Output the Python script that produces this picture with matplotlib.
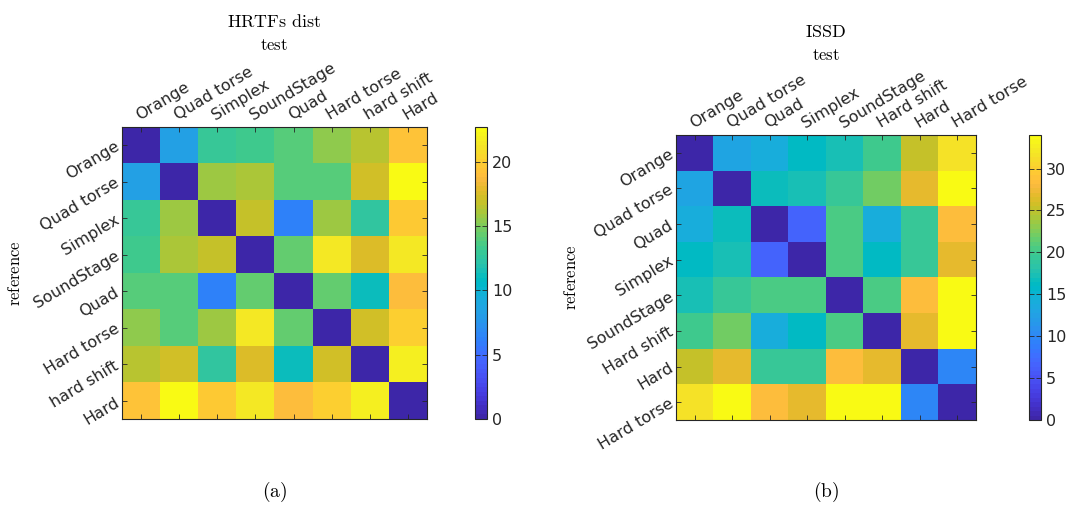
import numpy as np
import matplotlib
matplotlib.use("Agg")
import matplotlib.pyplot as plt
from matplotlib.colors import ListedColormap

plt.rcParams['mathtext.fontset'] = 'cm'
plt.rcParams['font.family'] = ['DejaVu Sans']

# ---------------- data ----------------
labels_a = ["Orange", "Quad torse", "Simplex", "SoundStage", "Quad",
            "Hard torse", "hard shift", "Hard"]
hrtf_dist = [
    [0.0, 8.5, 13.0, 13.2, 13.9, 15.5, 16.5, 19.5],
    [8.5, 0.0, 15.8, 16.0, 13.9, 13.9, 17.3, 22.7],
    [13.0, 15.8, 0.0, 16.8, 6.1, 15.8, 12.6, 19.8],
    [13.2, 16.0, 16.8, 0.0, 14.4, 21.3, 17.7, 21.3],
    [13.9, 13.9, 6.1, 14.4, 0.0, 14.4, 11.2, 18.9],
    [15.5, 13.9, 15.8, 21.3, 14.4, 0.0, 17.3, 20.2],
    [16.5, 17.3, 12.6, 17.7, 11.2, 17.3, 0.0, 21.8],
    [19.5, 22.7, 19.8, 21.3, 18.9, 20.2, 21.8, 0.0],
]
labels_b = ["Orange", "Quad torse", "Quad", "Simplex", "SoundStage",
            "Hard shift", "Hard", "Hard torse"]
issd = [
    [0.0, 13.0, 14.0, 16.2, 17.0, 20.0, 25.1, 31.8],
    [13.0, 0.0, 16.5, 17.0, 19.2, 21.9, 26.7, 34.0],
    [14.0, 16.5, 0.0, 6.5, 20.5, 14.3, 19.2, 28.3],
    [16.2, 17.0, 6.5, 0.0, 20.5, 16.2, 19.2, 27.0],
    [17.0, 19.2, 20.5, 20.5, 0.0, 20.5, 28.3, 34.0],
    [20.0, 21.9, 14.3, 16.2, 20.5, 0.0, 26.7, 34.0],
    [25.1, 26.7, 19.2, 19.2, 28.3, 26.7, 0.0, 9.7],
    [31.8, 34.0, 28.3, 27.0, 34.0, 34.0, 9.7, 0.0],
]
cbar_ticks_a = [0, 5, 10, 15, 20]
cbar_ticks_b = [0, 5, 10, 15, 20, 25, 30]

# ---------------- parula colormap ----------------
_parula = [
    [0.2422, 0.1504, 0.6603], [0.2504, 0.1650, 0.7076], [0.2578, 0.1818, 0.7511],
    [0.2647, 0.1978, 0.7952], [0.2706, 0.2147, 0.8364], [0.2751, 0.2342, 0.8710],
    [0.2783, 0.2559, 0.8991], [0.2803, 0.2782, 0.9221], [0.2813, 0.3006, 0.9414],
    [0.2810, 0.3228, 0.9579], [0.2795, 0.3447, 0.9717], [0.2760, 0.3667, 0.9829],
    [0.2699, 0.3892, 0.9906], [0.2602, 0.4123, 0.9952], [0.2440, 0.4358, 0.9988],
    [0.2206, 0.4603, 0.9973], [0.1963, 0.4847, 0.9892], [0.1834, 0.5074, 0.9798],
    [0.1786, 0.5289, 0.9682], [0.1764, 0.5499, 0.9520], [0.1687, 0.5703, 0.9359],
    [0.1540, 0.5902, 0.9218], [0.1460, 0.6091, 0.9079], [0.1380, 0.6276, 0.8973],
    [0.1248, 0.6459, 0.8883], [0.1113, 0.6635, 0.8763], [0.0952, 0.6798, 0.8598],
    [0.0689, 0.6948, 0.8394], [0.0297, 0.7082, 0.8163], [0.0036, 0.7203, 0.7917],
    [0.0067, 0.7312, 0.7660], [0.0433, 0.7411, 0.7394], [0.0964, 0.7500, 0.7120],
    [0.1408, 0.7584, 0.6842], [0.1717, 0.7670, 0.6554], [0.1938, 0.7758, 0.6251],
    [0.2161, 0.7843, 0.5923], [0.2470, 0.7918, 0.5567], [0.2906, 0.7973, 0.5188],
    [0.3406, 0.8008, 0.4789], [0.3909, 0.8029, 0.4354], [0.4456, 0.8024, 0.3909],
    [0.5044, 0.7993, 0.3480], [0.5616, 0.7942, 0.3045], [0.6174, 0.7876, 0.2612],
    [0.6720, 0.7793, 0.2227], [0.7242, 0.7698, 0.1910], [0.7738, 0.7598, 0.1646],
    [0.8203, 0.7498, 0.1535], [0.8634, 0.7406, 0.1596], [0.9035, 0.7330, 0.1774],
    [0.9393, 0.7288, 0.2100], [0.9728, 0.7298, 0.2394], [0.9956, 0.7434, 0.2371],
    [0.9970, 0.7659, 0.2199], [0.9952, 0.7893, 0.2028], [0.9892, 0.8136, 0.1885],
    [0.9786, 0.8386, 0.1766], [0.9676, 0.8639, 0.1643], [0.9610, 0.8890, 0.1537],
    [0.9597, 0.9135, 0.1423], [0.9628, 0.9373, 0.1265], [0.9691, 0.9606, 0.1064],
    [0.9769, 0.9839, 0.0805],
]
parula = ListedColormap(_parula, name="parula")

W, H = 1078, 505
fig = plt.figure(figsize=(W / 100, H / 100), dpi=100)

def px_axes(x0, y0, x1, y1):
    return fig.add_axes([x0 / W, 1 - y1 / H, (x1 - x0) / W, (y1 - y0) / H])

EDGE = '#262626'
TXT = '#262626'

def draw(ax_box, cb_box, data, labels, vmax, cticks, title, title_y, test_y,
         ylab_x, sub, sub_x):
    ax = px_axes(*ax_box)
    arr = np.array(data)
    im = ax.imshow(arr, cmap=parula, vmin=0, vmax=vmax, aspect='auto',
                   interpolation='nearest')
    n = len(labels)
    ax.set_xticks(range(n))
    ax.set_yticks(range(n))
    ax.xaxis.tick_top()
    ax.set_xticklabels(labels, rotation=31, ha='left', va='bottom',
                       rotation_mode='anchor', fontsize=11.5, color=TXT)
    ax.set_yticklabels(labels, rotation=31, ha='right', va='center',
                       rotation_mode='anchor', fontsize=11.5, color=TXT)
    ax.tick_params(axis='both', which='both', direction='in', length=3.5,
                   width=0.6, color=EDGE, top=True, bottom=True, left=True,
                   right=True, labeltop=True, labelbottom=False, pad=3)
    for s in ax.spines.values():
        s.set_color(EDGE)
        s.set_linewidth(0.8)
    cx = (ax_box[0] + ax_box[2]) / 2
    fig.text(cx / W, 1 - title_y / H, r'$\mathrm{' + title.replace(' ', r'\ ') + '}$',
             ha='center', va='center', fontsize=13)
    fig.text(cx / W, 1 - test_y / H, r'$\mathrm{test}$', ha='center',
             va='center', fontsize=12)
    yc = (ax_box[1] + ax_box[3]) / 2
    fig.text(ylab_x / W, 1 - yc / H, r'$\mathrm{reference}$', ha='center',
             va='center', rotation=90, fontsize=12)
    fig.text(sub_x / W, 1 - 492 / H, r'$\mathrm{(' + sub + ')}$', ha='center',
             va='center', fontsize=14)
    cax = px_axes(*cb_box)
    cb = fig.colorbar(im, cax=cax, ticks=cticks)
    cb.ax.tick_params(direction='in', length=3.5, width=0.6, color=EDGE,
                      labelsize=11.5, labelcolor=TXT, left=True, right=True)
    cb.outline.set_edgecolor(EDGE)
    cb.outline.set_linewidth(0.8)
    return ax

draw((122, 127, 427, 419), (475, 127, 487, 419), hrtf_dist, labels_a, 22.7,
     cbar_ticks_a, 'HRTFs dist', 22, 45, 15, 'a', 275)
draw((676, 135, 976, 420), (1029, 135, 1041, 420), issd, labels_b, 34.0,
     cbar_ticks_b, 'ISSD', 32, 55, 571, 'b', 826)

fig.savefig('out.png', dpi=100)
